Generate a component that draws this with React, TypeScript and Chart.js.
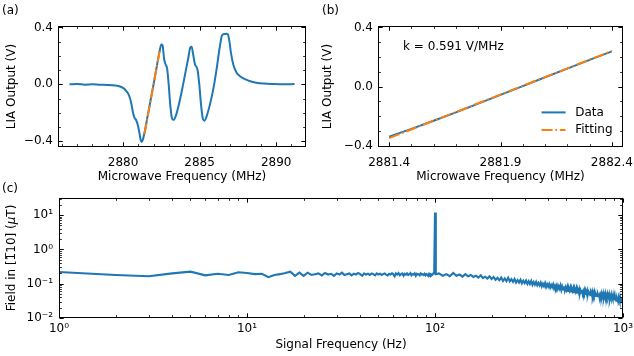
import React, { useEffect, useRef } from 'react';
import { Chart, registerables } from 'chart.js';

Chart.register(...registerables);

const FONT = "'DejaVu Sans', 'Noto Sans', sans-serif";
const FS = 12;
const BLUE = '#1f77b4';
const ORANGE = '#ff7f0e';
const DASHDOT = [11, 2.8, 1.7, 2.8];

// ---------- Panel (a): full ODMR derivative spectrum ----------
const spectrumFreq = [
  2876.5, 2877.0, 2877.5, 2878.0, 2878.5, 2879.0, 2879.5, 2879.8, 2880.0, 2880.2,
  2880.4, 2880.55, 2880.65, 2880.75, 2880.85, 2880.95, 2881.05, 2881.15, 2881.22, 2881.3,
  2881.4, 2881.6, 2881.8, 2882.0, 2882.2, 2882.4, 2882.5, 2882.58, 2882.68, 2882.78,
  2882.88, 2882.98, 2883.08, 2883.2, 2883.3, 2883.45, 2883.65, 2883.85, 2884.05, 2884.25,
  2884.4, 2884.48, 2884.58, 2884.7, 2884.85, 2884.98, 2885.1, 2885.22, 2885.32, 2885.5,
  2885.7, 2885.9, 2886.1, 2886.3, 2886.45, 2886.55, 2886.75, 2886.85, 2886.95, 2887.05,
  2887.2, 2887.4, 2887.6, 2887.8, 2888.0, 2888.3, 2888.7, 2889.2, 2889.8, 2890.5, 2891.2,
];
const spectrumLIA = [
  0.0, 0.002, -0.002, 0.0, -0.003, -0.004, -0.008, -0.015, -0.025, -0.045,
  -0.08, -0.14, -0.2, -0.235, -0.25, -0.28, -0.33, -0.39, -0.405, -0.385,
  -0.34, -0.225, -0.11, 0.005, 0.125, 0.24, 0.28, 0.275, 0.18, 0.14,
  0.11, 0.0, -0.14, -0.24, -0.25, -0.22, -0.14, -0.04, 0.07, 0.18,
  0.26, 0.265, 0.21, 0.14, 0.11, 0.0, -0.15, -0.245, -0.255, -0.21,
  -0.13, -0.03, 0.1, 0.25, 0.34, 0.352, 0.355, 0.35, 0.3, 0.22,
  0.14, 0.085, 0.06, 0.045, 0.035, 0.022, 0.012, 0.006, 0.003, 0.001, 0.002,
];
const fitFreq = [2881.4, 2882.4];
const fitLIA = [-0.35, 0.241];

const aXMajor = [2880, 2885, 2890];
const aXTickLabels = ['2880', '2885', '2890'];
const aXMinor = [2876, 2877, 2878, 2879, 2881, 2882, 2883, 2884, 2886, 2887, 2888, 2889, 2891];
const liaYMajor = [-0.4, 0, 0.4];
const liaYTickLabels = ['\u22120.4', '0.0', '0.4'];
const liaYMinor = [-0.3, -0.2, -0.1, 0.1, 0.2, 0.3];

// ---------- Panel (b): zoom on the linear slope ----------
const zoomFreq = [2881.4, 2881.5, 2881.6, 2881.7, 2881.8, 2881.9, 2882.0, 2882.1, 2882.2, 2882.3, 2882.4];
const zoomLIA = [-0.34, -0.287, -0.232, -0.175, -0.116, -0.057, 0.003, 0.063, 0.121, 0.18, 0.238];
const bXMajor = [2881.4, 2881.9, 2882.4];
const bXTickLabels = ['2881.4', '2881.9', '2882.4'];
const bXMinor = [2881.5, 2881.6, 2881.7, 2881.8, 2882.0, 2882.1, 2882.2, 2882.3];
const slopeNote = 'k = 0.591 V/MHz';

// ---------- Panel (c): field noise spectrum ----------
const lowBandStartHz = 1;
const lowBandStepHz = 1;
const lowBandField = [
  0.22, 0.18, 0.165, 0.2, 0.225, 0.175, 0.195, 0.18, 0.215, 0.205,
  0.19, 0.195, 0.155, 0.18, 0.19, 0.205, 0.225, 0.17, 0.21, 0.17,
  0.21, 0.18, 0.19, 0.2, 0.175, 0.205, 0.185, 0.195, 0.17, 0.2,
  0.185, 0.21, 0.18, 0.19, 0.2, 0.175, 0.195, 0.185, 0.205, 0.19,
  0.17, 0.2, 0.185, 0.195, 0.18, 0.2, 0.19, 0.175, 0.2, 0.185,
  0.195, 0.18, 0.19, 0.2, 0.185, 0.175, 0.195, 0.185, 0.2, 0.19,
  0.165, 0.2, 0.185, 0.205, 0.175, 0.19, 0.2, 0.17, 0.195, 0.185,
  0.2, 0.18, 0.19, 0.205, 0.175, 0.19, 0.185, 0.2, 0.17, 0.195,
  0.185, 0.19, 0.175, 0.2, 0.185, 0.19, 0.18, 0.195, 0.175, 0.19,
  0.185, 0.17, 0.195, 0.18, 0.19, 0.175, 0.185, 0.2, 0.2, 12,
  0.19,
];
const highBandStartHz = 105;
const highBandStepHz = 5;
const highBandField = [
  0.2, 0.17, 0.19, 0.165, 0.205, 0.17, 0.185, 0.16, 0.19, 0.165,
  0.18, 0.158, 0.172, 0.15, 0.176, 0.145, 0.16, 0.142, 0.165, 0.138,
  0.158, 0.13, 0.148, 0.126, 0.152, 0.12, 0.142, 0.119, 0.15, 0.117,
  0.136, 0.113, 0.138, 0.108, 0.128, 0.108, 0.13, 0.103, 0.122, 0.104,
  0.124, 0.099, 0.118, 0.098, 0.12, 0.093, 0.112, 0.094, 0.113, 0.09,
  0.106, 0.09, 0.108, 0.084, 0.1, 0.085, 0.104, 0.08, 0.097, 0.082,
  0.098, 0.077, 0.092, 0.079, 0.095, 0.073, 0.088, 0.075, 0.091, 0.071,
  0.085, 0.072, 0.089, 0.066, 0.082, 0.068, 0.084, 0.063, 0.078, 0.066,
  0.08, 0.062, 0.074, 0.063, 0.077, 0.059, 0.071, 0.061, 0.074, 0.057,
  0.069, 0.059, 0.072, 0.055, 0.066, 0.057, 0.069, 0.053, 0.064, 0.055,
  0.066, 0.051, 0.061, 0.053, 0.064, 0.05, 0.059, 0.052, 0.062, 0.048,
  0.057, 0.05, 0.06, 0.046, 0.055, 0.049, 0.058, 0.045, 0.054, 0.047,
  0.056, 0.044, 0.051, 0.046, 0.054, 0.043, 0.05, 0.045, 0.052, 0.041,
  0.048, 0.044, 0.051, 0.04, 0.047, 0.042, 0.05, 0.039, 0.046, 0.041,
  0.049, 0.038, 0.045, 0.04, 0.047, 0.037, 0.044, 0.039, 0.046, 0.036,
  0.042, 0.038, 0.045, 0.035, 0.041, 0.037, 0.044, 0.034, 0.043, 0.035,
  0.04, 0.035, 0.042, 0.032, 0.038, 0.034, 0.041, 0.031, 0.039, 0.033,
  0.036, 0.032, 0.039, 0.03, 0.035, 0.031, 0.038, 0.029, 0.035, 0.03,
];
const cXMajor = [1, 10, 100, 1000];
const cXTickLabels = ['10\u2070', '10\u00b9', '10\u00b2', '10\u00b3'];
const cXMinor = [2, 3, 4, 5, 6, 7, 8, 9, 20, 30, 40, 50, 60, 70, 80, 90, 200, 300, 400, 500, 600, 700, 800, 900];
const cYMajor = [0.01, 0.1, 1, 10];
const cYTickLabels = ['10\u207b\u00b2', '10\u207b\u00b9', '10\u2070', '10\u00b9'];
const cYMinor = [
  0.02, 0.03, 0.04, 0.05, 0.06, 0.07, 0.08, 0.09,
  0.2, 0.3, 0.4, 0.5, 0.6, 0.7, 0.8, 0.9,
  2, 3, 4, 5, 6, 7, 8, 9, 20, 30,
];
// y title of (c): pieces, the μ set in italic as in the original
const cYTitleParts = [
  { text: 'Field in [1\u030510] (', italic: false },
  { text: '\u03bc', italic: true },
  { text: 'T)', italic: false },
];

// ---------- plugins ----------
const frameTicks = {
  id: 'frameTicks',
  afterDatasetsDraw(chart: any, _args: any, opts: any) {
    if (!opts || !opts.xMajor) return;
    const { ctx, chartArea: a, scales } = chart;
    const sx = scales.x;
    const sy = scales.y;
    const L = Math.round(a.left) + 0.5;
    const R = Math.round(a.right) - 0.5;
    const T = Math.round(a.top) + 0.5;
    const B = Math.round(a.bottom) - 0.5;
    ctx.save();
    ctx.strokeStyle = '#000';
    const seg = (x1: number, y1: number, x2: number, y2: number) => {
      ctx.beginPath();
      ctx.moveTo(x1, y1);
      ctx.lineTo(x2, y2);
      ctx.stroke();
    };
    const xt = (vals: number[], len: number, lw: number) => {
      ctx.lineWidth = lw;
      for (const v of vals) {
        const p = Math.round(sx.getPixelForValue(v)) + 0.5;
        seg(p, B, p, B - len);
        seg(p, T, p, T + len);
      }
    };
    const yt = (vals: number[], len: number, lw: number) => {
      ctx.lineWidth = lw;
      for (const v of vals) {
        const p = Math.round(sy.getPixelForValue(v)) + 0.5;
        seg(L, p, L + len, p);
        seg(R, p, R - len, p);
      }
    };
    xt(opts.xMinor, 2.4, 0.8);
    yt(opts.yMinor, 2.4, 0.8);
    xt(opts.xMajor, 4.2, 1);
    yt(opts.yMajor, 4.2, 1);
    ctx.lineWidth = 1;
    ctx.strokeRect(L, T, R - L, B - T);
    ctx.restore();
  },
};

const panelLegend = {
  id: 'panelLegend',
  afterDatasetsDraw(chart: any, _args: any, opts: any) {
    if (!opts || !opts.show) return;
    const { ctx, chartArea: a } = chart;
    ctx.save();
    ctx.font = `${FS}px ${FONT}`;
    ctx.textBaseline = 'middle';
    ctx.textAlign = 'left';
    ctx.fillStyle = '#000';
    const ds = chart.data.datasets;
    const w = Math.max(...ds.map((d: any) => ctx.measureText(d.label).width));
    const textLeft = a.right - 10.5 - w;
    const lineEnd = textLeft - 9.6;
    const lineStart = lineEnd - 24;
    ds.forEach((d: any, i: number) => {
      const yc = a.bottom - 17 - (ds.length - 1 - i) * 17.6;
      ctx.strokeStyle = d.borderColor;
      ctx.lineWidth = d.borderWidth;
      ctx.setLineDash(d.borderDash || []);
      ctx.beginPath();
      ctx.moveTo(lineStart, yc);
      ctx.lineTo(lineEnd, yc);
      ctx.stroke();
      ctx.setLineDash([]);
      ctx.fillText(d.label, textLeft, yc);
    });
    if (opts.note) ctx.fillText(opts.note, a.left + 25, a.top + 21);
    ctx.restore();
  },
};

const richYTitle = {
  id: 'richYTitle',
  afterDraw(chart: any, _args: any, opts: any) {
    if (!opts || !opts.parts) return;
    const { ctx, chartArea: a } = chart;
    ctx.save();
    const fontFor = (p: any) => `${p.italic ? 'italic ' : ''}${FS}px ${FONT}`;
    let total = 0;
    const widths = opts.parts.map((p: any) => {
      ctx.font = fontFor(p);
      const w = ctx.measureText(p.text).width;
      total += w;
      return w;
    });
    ctx.translate(opts.x, (a.top + a.bottom) / 2);
    ctx.rotate(-Math.PI / 2);
    ctx.textBaseline = 'middle';
    ctx.textAlign = 'left';
    ctx.fillStyle = '#000';
    let x = -total / 2;
    opts.parts.forEach((p: any, i: number) => {
      ctx.font = fontFor(p);
      ctx.fillText(p.text, x, 0);
      x += widths[i];
    });
    ctx.restore();
  },
};

Chart.register(frameTicks, panelLegend, richYTitle);

const font = { family: FONT, size: FS };

function axisX(opts: {
  type?: string; min: number; max: number; major: number[]; labels: string[];
  height: number; pad: number; title: string; titlePad: number;
}) {
  return {
    type: opts.type || 'linear',
    min: opts.min,
    max: opts.max,
    afterBuildTicks: (s: any) => { s.ticks = opts.major.map((v) => ({ value: v })); },
    afterFit: (s: any) => { s.height = opts.height; s.paddingLeft = 0; s.paddingRight = 0; },
    grid: { display: false, drawTicks: false },
    border: { display: false },
    ticks: {
      padding: opts.pad, maxRotation: 0, minRotation: 0, autoSkip: false, font, color: '#000',
      callback: (_v: any, i: number) => opts.labels[i],
    },
    title: { display: true, text: opts.title, font, color: '#000', padding: { top: 0, bottom: opts.titlePad } },
  };
}

function axisY(opts: {
  type?: string; min: number; max: number; major: number[]; labels: string[];
  width: number; pad: number; title: string; titlePad: number;
}) {
  return {
    type: opts.type || 'linear',
    min: opts.min,
    max: opts.max,
    afterBuildTicks: (s: any) => { s.ticks = opts.major.map((v) => ({ value: v })); },
    afterFit: (s: any) => { s.width = opts.width; s.paddingTop = 0; s.paddingBottom = 0; },
    grid: { display: false, drawTicks: false },
    border: { display: false },
    ticks: {
      padding: opts.pad, autoSkip: false, font, color: '#000',
      callback: (_v: any, i: number) => opts.labels[i],
    },
    title: { display: opts.title !== '', text: opts.title, font, color: '#000', padding: { top: opts.titlePad, bottom: 0 } },
  };
}

function pairs(xs: number[], ys: number[]) {
  return xs.map((x, i) => ({ x, y: ys[i] }));
}

function spectrumPoints() {
  const low = lowBandField.map((y, i) => ({ x: lowBandStartHz + i * lowBandStepHz, y }));
  const high = highBandField.map((y, i) => ({ x: highBandStartHz + i * highBandStepHz, y }));
  return low.concat(high);
}

const baseOptions = {
  responsive: false,
  animation: false as const,
  devicePixelRatio: 1,
  events: [] as any[],
};

function configA(): any {
  return {
    type: 'line',
    data: {
      datasets: [
        { label: 'Data', data: pairs(spectrumFreq, spectrumLIA), borderColor: BLUE, borderWidth: 2, pointRadius: 0, cubicInterpolationMode: 'monotone', order: 2 },
        { label: 'Fitting', data: pairs(fitFreq, fitLIA), borderColor: ORANGE, borderWidth: 2, borderDash: DASHDOT, pointRadius: 0, order: 1 },
      ],
    },
    options: {
      ...baseOptions,
      layout: { padding: { left: 0, top: 26, right: 11, bottom: 0 } },
      plugins: {
        legend: { display: false }, tooltip: { enabled: false },
        frameTicks: { xMajor: aXMajor, xMinor: aXMinor, yMajor: liaYMajor, yMinor: liaYMinor },
      },
      scales: {
        x: axisX({ min: 2875.75, max: 2891.95, major: aXMajor, labels: aXTickLabels, height: 43, pad: 8.5, title: 'Microwave Frequency (MHz)', titlePad: 6 }),
        y: axisY({ min: -0.44, max: 0.41, major: liaYMajor, labels: liaYTickLabels, width: 58, pad: 5, title: 'LIA Output (V)', titlePad: 5 }),
      },
    },
  };
}

function configB(): any {
  return {
    type: 'line',
    data: {
      datasets: [
        { label: 'Data', data: pairs(zoomFreq, zoomLIA), borderColor: BLUE, borderWidth: 2, pointRadius: 0, order: 2 },
        { label: 'Fitting', data: pairs(fitFreq, fitLIA), borderColor: ORANGE, borderWidth: 2, borderDash: DASHDOT, pointRadius: 0, order: 1 },
      ],
    },
    options: {
      ...baseOptions,
      layout: { padding: { left: 0, top: 26, right: 11, bottom: 0 } },
      plugins: {
        legend: { display: false }, tooltip: { enabled: false },
        frameTicks: { xMajor: bXMajor, xMinor: bXMinor, yMajor: liaYMajor, yMinor: liaYMinor },
        panelLegend: { show: true, note: slopeNote },
      },
      scales: {
        x: axisX({ min: 2881.35, max: 2882.45, major: bXMajor, labels: bXTickLabels, height: 43, pad: 8.5, title: 'Microwave Frequency (MHz)', titlePad: 6 }),
        y: axisY({ min: -0.41, max: 0.41, major: liaYMajor, labels: liaYTickLabels, width: 61, pad: 5, title: 'LIA Output (V)', titlePad: 4 }),
      },
    },
  };
}

function configC(): any {
  return {
    type: 'line',
    data: {
      datasets: [
        { label: 'Field', data: spectrumPoints(), borderColor: BLUE, borderWidth: 2.1, pointRadius: 0 },
      ],
    },
    options: {
      ...baseOptions,
      layout: { padding: { left: 0, top: 18, right: 11, bottom: 0 } },
      plugins: {
        legend: { display: false }, tooltip: { enabled: false },
        frameTicks: { xMajor: cXMajor, xMinor: cXMinor, yMajor: cYMajor, yMinor: cYMinor },
        richYTitle: { parts: cYTitleParts, x: 12 },
      },
      scales: {
        x: axisX({ type: 'logarithmic', min: 1, max: 1000, major: cXMajor, labels: cXTickLabels, height: 38, pad: 4, title: 'Signal Frequency (Hz)', titlePad: 3.5 }),
        y: axisY({ type: 'logarithmic', min: 0.01, max: 31.6, major: cYMajor, labels: cYTickLabels, width: 59, pad: 6, title: '', titlePad: 5 }),
      },
    },
  };
}

const tag: React.CSSProperties = {
  position: 'absolute', fontFamily: FONT, fontSize: FS, lineHeight: `${FS}px`, color: '#000', whiteSpace: 'nowrap',
};

export default function App() {
  const refA = useRef<HTMLCanvasElement>(null);
  const refB = useRef<HTMLCanvasElement>(null);
  const refC = useRef<HTMLCanvasElement>(null);

  useEffect(() => {
    const charts = [
      new Chart(refA.current as HTMLCanvasElement, configA()),
      new Chart(refB.current as HTMLCanvasElement, configB()),
      new Chart(refC.current as HTMLCanvasElement, configC()),
    ];
    return () => charts.forEach((c) => c.destroy());
  }, []);

  return (
    <div style={{ position: 'fixed', left: 0, top: 0, width: 634, height: 356, background: '#fff', overflow: 'hidden' }}>
      <canvas ref={refA} width={317} height={190} style={{ position: 'absolute', left: 0, top: 0, width: 317, height: 190 }} />
      <canvas ref={refB} width={317} height={190} style={{ position: 'absolute', left: 317, top: 0, width: 317, height: 190 }} />
      <canvas ref={refC} width={634} height={176} style={{ position: 'absolute', left: 0, top: 180, width: 634, height: 176 }} />
      <div style={{ ...tag, left: 2, top: 4 }}>(a)</div>
      <div style={{ ...tag, left: 322, top: 4 }}>(b)</div>
      <div style={{ ...tag, left: 2, top: 182 }}>(c)</div>
    </div>
  );
}
